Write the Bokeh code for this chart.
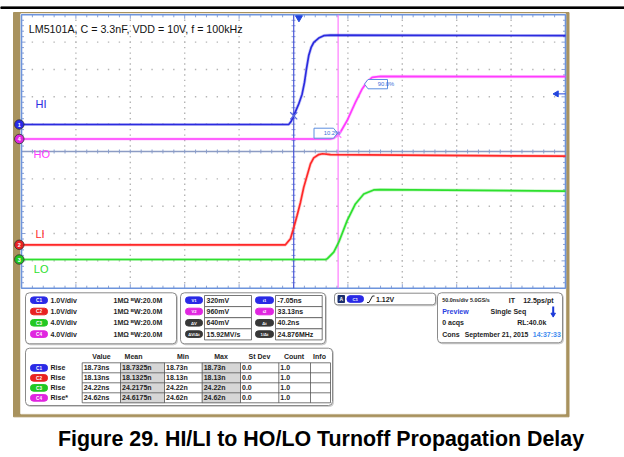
import numpy as np
from bokeh.plotting import figure
from bokeh.models import Range1d, ColumnDataSource
from bokeh.embed import file_html
from bokeh.resources import INLINE
from bokeh.core.properties import value

# ---------------- values ----------------
title_text = "LM5101A, C = 3.3nF, VDD = 10V, f = 100kHz"
caption_text = "Figure 29. HI/LI to HO/LO Turnoff Propagation Delay"

ns_per_div = 50.0
t_left = -255.0          # time at the left graticule edge, ns

# C1 = HI (V), C2 = LI, C3 = LO, C4 = HO ; time in ns
hi_t = [-255, -9.4, -7.2, -5.3, -3.2, -0.2, 2.9, 5.1, 6.9, 9.0, 11.2, 13.6, 18.2, 22.8, 29.0, 245]
hi_v = [0.00, 0.00, 0.11, 0.27, 0.47, 0.75, 1.11, 1.54, 2.03, 2.52, 2.82, 3.00, 3.16, 3.25, 3.27, 3.25]

ho_t = [-255, 28.9, 32.0, 35.1, 38.1, 44.3, 51.9, 58.1, 62.7, 67.3, 74.9, 245]
ho_v = [0.00, 0.00, 0.12, 0.51, 0.99, 2.70, 5.37, 7.33, 8.39, 9.02, 9.17, 9.12]

li_t = [-255, -12.4, -7.8, -4.8, -1.7, 1.4, 4.4, 7.5, 10.6, 13.6, 18.2, 21.6, 29.0, 245]
li_v = [0.00, 0.00, 0.22, 0.62, 1.07, 1.55, 2.10, 2.53, 2.96, 3.18, 3.30, 3.33, 3.30, 3.24]

lo_t = [-255, 24.4, 25.9, 32.0, 36.6, 44.3, 51.9, 59.6, 68.7, 74.9, 245]
lo_v = [0.00, 0.00, 0.10, 1.07, 2.53, 5.69, 8.13, 9.59, 10.18, 10.22, 10.00]

cursor_t1 = -4.8
cursor_t2 = 36.0
trigger_level = 1.12     # V on C1

ch_names = ["c1", "c2", "c3", "c4"]
ch_numbers = ["1", "2", "3", "4"]
ch_labels = ["HI", "LI", "LO", "HO"]
ch_vdiv = [1.0, 1.0, 4.0, 4.0]

chan_settings = ["1.0V/div", "1.0V/div", "4.0V/div", "4.0V/div"]
chan_bw = "1MΩ ᴮW:20.0M"

cursor_names_a = ["V1", "V2", "ΔV", "ΔV/Δt"]
cursor_vals_a = ["320mV", "960mV", "640mV", "15.92MV/s"]
cursor_names_b = ["t1", "t2", "Δt", "1/Δt"]
cursor_vals_b = ["-7.05ns", "33.13ns", "40.2ns", "24.876MHz"]

meas_headers = ["Value", "Mean", "Min", "Max", "St Dev", "Count", "Info"]
meas_names = ["Rise", "Rise", "Rise", "Rise*"]
meas_value = ["18.73ns", "18.13ns", "24.22ns", "24.62ns"]
meas_mean = ["18.7325n", "18.1325n", "24.2175n", "24.6175n"]
meas_min = ["18.73n", "18.13n", "24.22n", "24.62n"]
meas_max = ["18.73n", "18.13n", "24.22n", "24.62n"]
meas_std = ["0.0", "0.0", "0.0", "0.0"]
meas_count = ["1.0", "1.0", "1.0", "1.0"]

trig_text = "1.12V"
tb_line1 = ["50.0ns/div", "5.0GS/s", "IT", "12.5ps/pt"]
tb_line2 = ["Preview", "Single Seq"]
tb_line3 = ["0 acqs", "RL:40.0k"]
tb_line4 = ["Cons", "September 21, 2015", "14:37:33"]

# ---------------- styling / layout ----------------
BLUE, RED, GREEN, MAG = "#2b2bdf", "#ff2828", "#2ee02e", "#ff3cff"
ch_colors = [BLUE, RED, GREEN, MAG]
ch_pill = ["#2a2ae6", "#e82222", "#22c822", "#e026e0"]
ch_zero_y = [124.0, 244.3, 259.0, 138.5]   # screen position of each channel's 0 V
GOLD = "#a8925e"
FONT = "Liberation Sans"

PX0, PX1, PY0, PY1 = 0.0, 624.0, 0.0, 457.0
W, H = int(PX1 - PX0), int(PY1 - PY0)
GX0, GX1, GY0, GY1 = 21.0, 565.0, 14.3, 287.7
DXP = (GX1 - GX0) / 10.0
DYP = (GY1 - GY0) / 10.0

p = figure(width=W, height=H, x_range=Range1d(PX0, PX1), y_range=Range1d(PY1, PY0),
           output_backend="svg", toolbar_location=None, min_border=0,
           x_axis_type=None, y_axis_type=None)
p.outline_line_color = None
p.background_fill_color = "white"
p.border_fill_color = "white"

ns_per_px = 10 * ns_per_div / (GX1 - GX0)
p.extra_x_ranges = {"t": Range1d(t_left - (GX0 - PX0) * ns_per_px,
                                 t_left + (PX1 - GX0) * ns_per_px)}
yr = {}
for name, vd, y0 in zip(ch_names, ch_vdiv, ch_zero_y):
    vpp = vd / DYP
    yr[name] = Range1d(-(PY1 - y0) * vpp, (y0 - PY0) * vpp)
p.extra_y_ranges = yr

texts = {}
def T(x, y, s, size=7.0, color="#1e1e1e", style="bold", align="left", font=FONT):
    d = texts.setdefault((align, style, font), dict(x=[], y=[], text=[], color=[], size=[]))
    d["x"].append(x); d["y"].append(y); d["text"].append(s)
    d["color"].append(color); d["size"].append(f"{size}px")

# page frame
p.quad(left=PX0, right=PX1, top=6.4, bottom=8.0, color="black")
p.quad(left=13, right=568.5, top=12, bottom=416.3, color=GOLD)
p.quad(left=20.3, right=565.2, top=13.3, bottom=413.3, color="white")

# graticule dots
dx, dy = [], []
for k in range(1, 10):
    if k == 5:
        continue
    for m in range(1, 50):
        dx.append(GX0 + DXP * k); dy.append(GY0 + DYP / 5 * m)
for j in range(1, 10):
    if j == 5:
        continue
    for m in range(1, 50):
        dx.append(GX0 + DXP / 5 * m); dy.append(GY0 + DYP * j)
p.scatter(dx, dy, marker="square", size=1.4, color="#b4b4b4", line_color=None)

# ticks
x0s, y0s, x1s, y1s = [], [], [], []
ysep = GY0 + 5 * DYP
xc = GX0 + 5 * DXP
for m in range(1, 50):
    L = 4.0 if m % 5 == 0 else 2.5
    y = GY0 + DYP / 5 * m
    x = GX0 + DXP / 5 * m
    x0s += [GX0, GX1 - L, x, x, x, xc - 2]
    x1s += [GX0 + L, GX1, x, x, x, xc + 2]
    y0s += [y, y, GY0, GY1 - L, ysep - 2, y]
    y1s += [y, y, GY0 + L, GY1, ysep + 2, y]
p.segment(x0s, y0s, x1s, y1s, color="#8aa0d4", line_width=1)

p.segment([GX0], [ysep], [GX1], [ysep], color="#8c9cc4", line_width=1.4)
p.quad(left=GX0, right=GX1, top=GY0, bottom=GY1, fill_color=None,
       line_color="#6d94dc", line_width=1.6)

# cursors
p.segment([cursor_t1], [GY0], [cursor_t1], [GY1], x_range_name="t", color="#4a55d8", line_width=1.2)
p.segment([cursor_t2], [GY0], [cursor_t2], [GY1], x_range_name="t", color="#ff70ff", line_width=1.1)

# waveforms
traces = [(hi_t, hi_v, "c1", BLUE), (li_t, li_v, "c2", RED),
          (lo_t, lo_v, "c3", GREEN), (ho_t, ho_v, "c4", MAG)]
for t, v, rn, col in traces:
    p.line(t, v, x_range_name="t", y_range_name=rn, color=col, line_width=3.2, line_alpha=0.25)
    p.line(t, v, x_range_name="t", y_range_name=rn, color=col, line_width=1.7)

# cursor crossings
p.scatter([cursor_t1], [float(np.interp(cursor_t1, hi_t, hi_v))], x_range_name="t", y_range_name="c1",
          marker="x", size=10, line_color="#5a6ae0", line_width=1.2)
p.scatter([cursor_t2], [float(np.interp(cursor_t2, ho_t, ho_v))], x_range_name="t", y_range_name="c4",
          marker="x", size=9, line_color="#ff80ff", line_width=1.2)

# trigger position and level markers
p.scatter([0.0], [17.3], x_range_name="t", marker="inverted_triangle", size=7, color="#2244dd")
p.segment([556.0], [trigger_level], [GX1], [trigger_level], y_range_name="c1", color="#2244dd", line_width=1)
p.scatter([556.0], [trigger_level], y_range_name="c1", marker="triangle", angle=np.pi / 2,
          size=6, color="#2244dd")

# 10% / 90% labels
p.patch([313.5, 333, 337, 333, 313.5], [127.7, 127.7, 132.7, 137.7, 137.7],
        fill_color="white", line_color="#5b8de0", line_width=1)
p.patch([367.5, 387, 387, 367.5, 364], [79, 79, 88.3, 88.3, 83.6],
        fill_color="white", line_color="#5b8de0", line_width=1)
T(323.3, 132.9, "10.2%", size=5.8, color="#3a6fd8", style="normal")
T(377.3, 83.8, "90.0%", size=5.8, color="#3a6fd8", style="normal")

# channel markers
for num, col, pill_c, y0, rn in zip(ch_numbers, ch_colors, ch_pill, ch_zero_y, ch_names):
    p.scatter([18.8], [0.0], y_range_name=rn, marker="circle", size=9.5, fill_color=pill_c,
              line_color="#303030", line_width=0.8)
    T(18.8, y0 + 0.3, num, size=5.5, color="white", align="center")

# labels on the graticule
T(28.3, 28.0, title_text, size=10.7, color="#111111", style="normal")
lab_pos = [(35.0, 103.3), (35.0, 233.3), (33.3, 268.3), (33.0, 153.0)]
for lab, col, (lx, ly) in zip(ch_labels, ch_colors, lab_pos):
    T(lx, ly, lab, size=11, color=col, style="normal")

# ---------------- bottom panel ----------------
def box(x0, x1, y0, y1, r=4):
    p.quad(left=x0 + 1, right=x1 + 1, top=y0 + 1, bottom=y1 + 1, color="#cfcfcf", border_radius=r)
    p.quad(left=x0, right=x1, top=y0, bottom=y1, fill_color="white",
           line_color="#8a8a8a", line_width=1, border_radius=r)

def pill(x0, x1, yc, col, label, h=6.6, size=4.6):
    p.quad(left=x0, right=x1, top=yc - h / 2, bottom=yc + h / 2, color=col, border_radius=3)
    T((x0 + x1) / 2, yc + 0.2, label, size=size, color="white", align="center")

rows = [299.7, 311.0, 322.3, 333.6]

box(25, 176, 292.3, 343.3)
for i in range(4):
    pill(30, 47, rows[i], ch_pill[i], "C" + ch_numbers[i])
    T(50, rows[i], chan_settings[i])
    T(113, rows[i], chan_bw)

box(180, 325, 292.3, 343.3)
ctop = [295.0, 306.1, 317.2, 328.3]
for i in range(4):
    pa = ch_pill[0] if i == 0 else (ch_pill[3] if i == 1 else "#383838")
    pill(185, 202, rows[i], pa, cursor_names_a[i], size=4.2)
    pill(255, 273, rows[i], pa, cursor_names_b[i], size=4.2)
    p.quad(left=204, right=251, top=ctop[i], bottom=ctop[i] + 11.1, fill_color="white",
           line_color="#555555", line_width=0.8)
    p.quad(left=275, right=321.7, top=ctop[i], bottom=ctop[i] + 11.1, fill_color="white",
           line_color="#555555", line_width=0.8)
    T(206, rows[i], cursor_vals_a[i])
    T(277, rows[i], cursor_vals_b[i])

# trigger box
box(334, 435, 292.7, 304.3, r=3)
p.quad(left=337.5, right=344, top=295, bottom=302, color="#1d2f6e")
T(340.8, 298.7, "A", size=5, color="white", align="center")
pill(346.5, 363, 298.5, ch_pill[0], "C1", size=4.4)
p.line([366.5, 368.5, 372, 374], [302, 302, 295.5, 295.5], color="#222222", line_width=1)
T(375.5, 298.6, trig_text)

# timebase box
box(437, 562, 292.3, 342.3)
T(441.7, rows[0], tb_line1[0], size=5.4); T(469.5, rows[0], tb_line1[1], size=5.4)
T(508.3, rows[0], tb_line1[2]); T(522.7, rows[0], tb_line1[3])
T(441.7, rows[1], tb_line2[0], color="#2a3fe0"); T(490.0, rows[1], tb_line2[1])
p.segment([552.7], [306.0], [552.7], [313.0], color="#1a38d8", line_width=2)
p.scatter([552.7], [314.0], marker="inverted_triangle", size=4.5, color="#1a38d8")
T(441.7, rows[2], tb_line3[0]); T(516.7, rows[2], tb_line3[1])
T(441.7, rows[3], tb_line4[0]); T(464.3, rows[3], tb_line4[1], size=6.8)
T(532.3, rows[3], tb_line4[2], color="#3f8cf0")

# measurement table
box(25, 332, 347.7, 405)
cols = [81.7, 120.0, 164.0, 201.7, 240.0, 278.3, 310.0, 330.0]
hdr_cx = [101, 133, 182.5, 220.5, 259, 293.5, 319]
for h_, cx in zip(meas_headers, hdr_cx):
    T(cx, 356.3, h_, align="center")
rtop = [362.3, 372.3, 382.3, 392.3, 402.3]
p.quad(left=[cols[1], cols[3]], right=[cols[2], cols[4]], top=rtop[0], bottom=rtop[-1],
       color="#d6d6d6")
p.segment([cols[0]] * 5, rtop, [cols[-1]] * 5, rtop, color="#555555", line_width=0.8)
p.segment(cols, [rtop[0]] * len(cols), cols, [rtop[-1]] * len(cols), color="#555555", line_width=0.8)
rcent = [367.4, 377.4, 387.4, 397.4]
for i in range(4):
    pill(30, 47, rcent[i], ch_pill[i], "C" + ch_numbers[i])
    T(50, rcent[i], meas_names[i])
    for c, col_vals in enumerate([meas_value, meas_mean, meas_min, meas_max, meas_std, meas_count]):
        T(cols[c] + 1.5, rcent[i], col_vals[i])

# caption
T(320.5, 438.5, caption_text, size=21.4, color="black", align="center")

for (align, style, font), d in texts.items():
    p.text(x="x", y="y", text="text", source=ColumnDataSource(d), text_color="color",
           text_font_size="size", text_align=align, text_baseline="middle",
           text_font_style=style, text_font=value(font))

open("out.html", "w").write(file_html(p, INLINE))
